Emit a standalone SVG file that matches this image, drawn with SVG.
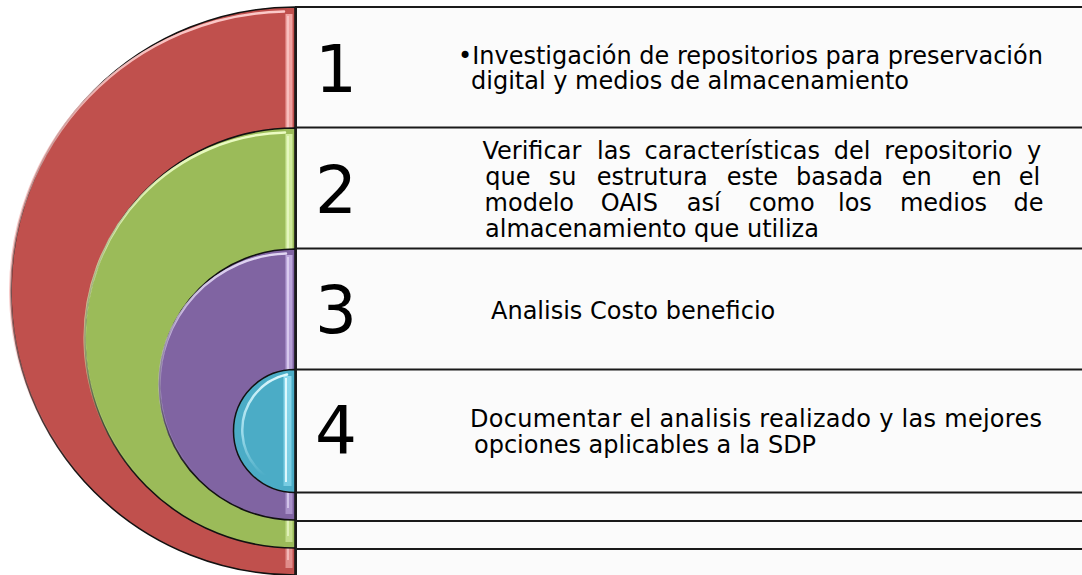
<svg xmlns="http://www.w3.org/2000/svg" width="1082" height="575" viewBox="0 0 1082 575">
<defs>
<style>
.box{fill:#fbfbfb;stroke:#1a1a1a;stroke-width:2}
.ring{stroke:#111;stroke-width:1.5}
.num{font-family:"DejaVu Sans",Verdana,sans-serif;font-size:66px;fill:#000;text-anchor:middle}
.txt{font-family:"DejaVu Sans",Verdana,sans-serif;font-size:24px;fill:#000}
.hl{fill:none;stroke-width:2.5;stroke-linecap:round}
</style>
<linearGradient id="gR" x1="0" y1="0" x2="0" y2="1"><stop offset="0" stop-color="#ffd0cf" stop-opacity="0.95"/><stop offset="0.55" stop-color="#f4a9a7" stop-opacity="0.6"/><stop offset="0.85" stop-color="#f4a9a7" stop-opacity="0"/></linearGradient>
<linearGradient id="gG" x1="0" y1="0" x2="0" y2="1"><stop offset="0" stop-color="#f0ffc8" stop-opacity="0.95"/><stop offset="0.55" stop-color="#d8eea8" stop-opacity="0.6"/><stop offset="0.85" stop-color="#d8eea8" stop-opacity="0"/></linearGradient>
<linearGradient id="gP" x1="0" y1="0" x2="0" y2="1"><stop offset="0" stop-color="#e6dcf6" stop-opacity="0.95"/><stop offset="0.55" stop-color="#c6b4e2" stop-opacity="0.6"/><stop offset="0.85" stop-color="#c6b4e2" stop-opacity="0"/></linearGradient>
<linearGradient id="gB" x1="0" y1="0" x2="0" y2="1"><stop offset="0" stop-color="#e4fbff" stop-opacity="0.95"/><stop offset="0.55" stop-color="#b8ecf8" stop-opacity="0.7"/><stop offset="0.9" stop-color="#b8ecf8" stop-opacity="0"/></linearGradient>
<linearGradient id="vR" x1="0" y1="0" x2="0" y2="1"><stop offset="0" stop-color="#f0a4a2"/><stop offset="1" stop-color="#e08c8a"/></linearGradient>
<linearGradient id="vG" x1="0" y1="0" x2="0" y2="1"><stop offset="0" stop-color="#d2eca0"/><stop offset="1" stop-color="#c2dc8a"/></linearGradient>
<linearGradient id="vP" x1="0" y1="0" x2="0" y2="1"><stop offset="0" stop-color="#bda8dc"/><stop offset="1" stop-color="#a890c8"/></linearGradient>
<linearGradient id="vB" x1="0" y1="0" x2="0" y2="1"><stop offset="0" stop-color="#8cd8ec"/><stop offset="1" stop-color="#78cce2"/></linearGradient>
</defs>
<rect x="0" y="0" width="1082" height="575" fill="#ffffff"/>

<g id="node1">
<path class="ring" fill="#c0504d" d="M295,7 A284,284 0 0 0 295,575 Z"/>
<rect x="285.5" y="14" width="7" height="554" fill="url(#vR)"/>
<line x1="288" y1="16" x2="288" y2="560" stroke="#ffd6d5" stroke-width="1.5" opacity="0.8"/>
<path class="hl" stroke="url(#gR)" d="M284,11.5 A279,279 0 0 0 295,570"/>
<rect class="box" x="296" y="7" width="800" height="575"/>
<text class="num" x="336" y="92">1</text>
<text class="txt" y="64"><tspan x="458">•Investigación de repositorios para preservación</tspan><tspan x="471" y="89">digital y medios de almacenamiento</tspan></text>
</g>

<g id="node2">
<path class="ring" fill="#9bbb59" d="M295,128 A210,210 0 0 0 295,548 Z"/>
<rect x="285.5" y="134" width="7" height="408" fill="url(#vG)"/>
<line x1="288" y1="136" x2="288" y2="536" stroke="#f4ffd8" stroke-width="1.5" opacity="0.8"/>
<path class="hl" stroke="url(#gG)" d="M285,132.5 A205,205 0 0 0 295,543"/>
<rect class="box" x="296" y="127.5" width="800" height="421.5"/>
<text class="num" x="336" y="213">2</text>
<text class="txt" y="159"><tspan x="482.5">Verificar</tspan><tspan x="597">las</tspan><tspan x="644.6">características</tspan><tspan x="833.8">del</tspan><tspan x="884.3">repositorio</tspan><tspan x="1027">y</tspan></text>
<text class="txt" y="185"><tspan x="485.3">que</tspan><tspan x="548.7">su</tspan><tspan x="596.7">estrutura</tspan><tspan x="726.7">este</tspan><tspan x="796">basada</tspan><tspan x="901.7">en</tspan><tspan x="971.7">en</tspan><tspan x="1018.7">el</tspan></text>
<text class="txt" y="211"><tspan x="484.6">modelo</tspan><tspan x="600.7">OAIS</tspan><tspan x="686.7">así</tspan><tspan x="748.7">como</tspan><tspan x="838">los</tspan><tspan x="899.9">medios</tspan><tspan x="1013.5">de</tspan></text>
<text class="txt" x="485" y="237">almacenamiento que utiliza</text>
</g>

<g id="node3">
<path class="ring" fill="#8064a2" d="M295,249 A135.5,135.5 0 0 0 295,520 Z"/>
<rect x="285.5" y="255" width="7" height="259" fill="url(#vP)"/>
<line x1="288" y1="257" x2="288" y2="508" stroke="#efe6ff" stroke-width="1.5" opacity="0.8"/>
<path class="hl" stroke="url(#gP)" d="M286,253.5 A131,131 0 0 0 295,515.5"/>
<rect class="box" x="296" y="248.5" width="800" height="272.5"/>
<text class="num" x="336" y="333">3</text>
<text class="txt" x="491" y="319">Analisis Costo beneficio</text>
</g>

<g id="node4">
<path class="ring" fill="#4bacc6" d="M295,369.5 A61.5,61.5 0 0 0 295,492.5 Z"/>
<rect x="283.5" y="376" width="8" height="110" fill="url(#vB)"/>
<line x1="286" y1="378" x2="286" y2="482" stroke="#e8fcff" stroke-width="2" opacity="0.9"/>
<path class="hl" stroke="url(#gB)" d="M287,374.5 A57,57 0 0 0 295,487"/>
<rect class="box" x="296" y="369.5" width="800" height="123"/>
<text class="num" x="336" y="453">4</text>
<text class="txt" y="427"><tspan x="470" textLength="572" lengthAdjust="spacing">Documentar el analisis realizado y las mejores</tspan><tspan x="474" y="453">opciones aplicables a la SDP</tspan></text>
</g>
</svg>
